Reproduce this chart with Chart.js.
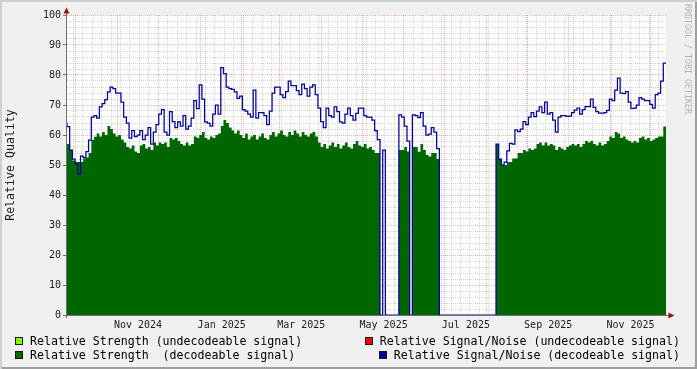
<!DOCTYPE html>
<html>
<head>
<meta charset="utf-8">
<script src="https://cdn.jsdelivr.net/npm/chart.js@4.4.1/dist/chart.umd.min.js"></script>
<style>
  html, body { margin: 0; padding: 0; background: #f0f0f0; }
  #wrap {
    position: relative; width: 697px; height: 369px; overflow: hidden;
    background: #f0f0f0;
    box-shadow: inset 2px 2px 0 #cfcfcf, inset -2px -2px 0 #9e9e9e;
    font-family: "DejaVu Sans Mono", monospace;
  }
  #chart { position: absolute; left: 0; top: 0; }
  .leg { position: absolute; font-size: 11.6px; line-height: 14px; color: #000; white-space: pre; }
  .leg i { display: inline-block; width: 8px; height: 8px; box-sizing: border-box;
           border: 1px solid #1a1a1a; margin-right: 7px; vertical-align: 0px; }
  #mark { position: absolute; left: 683px; top: 4px; writing-mode: vertical-rl;
          font-size: 8.3px; color: #b4b4b4; white-space: pre; line-height: 10px; }
</style>
</head>
<body>
<div id="wrap">
  <canvas id="chart" width="697" height="369"></canvas>
  <div id="legend"></div>
  <div id="mark">RRDTOOL / TOBI OETIKER</div>
</div>
<script>
  'use strict';

  var DAY = 86400000;
  // first sample sits on the left edge of the plot, one sample every 2 days
  var seriesStart = Date.UTC(2024, 8, 24, 8);
  var sampleDays = 2;
  var spanDays = 444;

  var tickLabels = ['Nov 2024', 'Jan 2025', 'Mar 2025', 'May 2025', 'Jul 2025', 'Sep 2025', 'Nov 2025'];
  var tickMonths = [[2024, 10], [2025, 0], [2025, 2], [2025, 4], [2025, 6], [2025, 8], [2025, 10]];

  var seriesNames = [
    'Relative Strength (undecodeable signal)',
    'Relative Signal/Noise (undecodeable signal)',
    'Relative Strength  (decodeable signal)',
    'Relative Signal/Noise (decodeable signal)'
  ];
  var seriesColors = ['#80ff00', '#ff0000', '#006600', '#000099'];

  // nothing undecodeable is visible in this period
  var strengthUndecoded = [];
  var snrUndecoded = [];

  var strengthDecoded = [
    57.2, 57, 55, 51.5, 51, 51, 51, 52.2, 52.5, 54,
    58.3, 59.4, 60.5, 59.5, 61, 60, 63, 62, 60.5, 59.5,
    60, 58.5, 57.5, 56, 55.5, 56.5, 54.5, 54, 56.5, 57,
    55.5, 56, 55, 57.5, 56.5, 57.5, 57, 57.5, 56, 59,
    58.5, 59, 58, 57, 56.5, 57.5, 56.5, 57, 59.5, 59,
    60, 61, 59, 58.5, 59.5, 59, 60, 60.5, 63, 65,
    64, 62.5, 61.5, 60.5, 61.5, 60, 59, 60.5, 58.5, 59.5,
    60, 58.5, 59.5, 60.5, 59, 58.5, 60, 61, 59.5, 60.5,
    61.5, 60, 59.5, 61, 60, 61.5, 60.5, 59.5, 61, 60,
    59.5, 60.5, 61, 59.5, 57.5, 56, 57, 55.5, 56.5, 57.5,
    56, 57, 55.5, 56.5, 57.5, 56, 55.5, 57, 58, 56.5,
    56, 57, 55.5, 56, 55, 54, 54, 0, 0, 0,
    0, 0, 0, 0, 55, 55, 56, 54.5, 0, 56,
    56, 54.4, 57, 55, 53.3, 52.8, 54, 54, 52, 0,
    0, 0, 0, 0, 0, 0, 0, 0, 0, 0,
    0, 0, 0, 0, 0, 0, 0, 0, 0, 0,
    57, 52, 50, 50, 51, 51, 52.2, 52.2, 54, 54,
    55, 54.5, 55.5, 55, 55.5, 57, 57.5, 56.5, 57.5, 56.5,
    57, 56.5, 55, 56, 55.5, 55, 56, 56.5, 57, 56.5,
    57, 56, 57, 58, 57.5, 58, 57, 56.5, 57.5, 56.5,
    57, 58, 59.5, 59, 61, 60.5, 59, 59.5, 58.5, 58,
    57.5, 58, 57.5, 59, 59.5, 58.5, 59, 58, 58.5, 59,
    59.5, 59.5, 62.8
  ];

  var snrDecoded = [
    64, 62.8, 55, 52, 50.5, 47, 53, 52.5, 54.5, 58.3,
    66, 66.5, 65.6, 69.4, 70.5, 71.8, 74.4, 76, 75.5, 74,
    74, 71, 66, 64, 59, 61.5, 59.5, 60, 61.5, 58.5,
    60, 62.5, 57, 61, 63.5, 67, 68.5, 61, 60, 67.8,
    64.5, 62.5, 64.4, 63, 66.5, 62, 63, 65.6, 71.5, 68.8,
    76.7, 72, 64.4, 64, 63, 67, 70, 67, 82.5, 80.5,
    76, 75.5, 75.2, 74.4, 72.2, 73, 68.5, 68, 67, 66,
    75, 65.6, 67.5, 67.5, 66.5, 63.5, 68, 74, 76, 76,
    73.5, 72.5, 74.5, 78, 76.5, 76.5, 74.8, 73.5, 77, 75.5,
    73, 76, 76.7, 73.5, 69, 64.5, 62.5, 69, 66.5, 66,
    69.4, 67.8, 64.4, 64, 67, 69, 66.5, 65, 67.2, 69,
    69, 66.5, 66, 66, 65, 61.5, 58.5, 0, 55, 0,
    0, 0, 0, 0, 66.7, 66, 63, 58, 0, 66.7,
    66.5, 65.8, 67.5, 63, 60, 60.3, 62.5, 61, 55.5, 0,
    0, 0, 0, 0, 0, 0, 0, 0, 0, 0,
    0, 0, 0, 0, 0, 0, 0, 0, 0, 0,
    57, 52, 50, 51, 54.7, 57.2, 57, 61.7, 61.1, 62,
    64.5, 63.5, 66, 67.5, 66.1, 68, 69.4, 67.5, 71, 67,
    67.5, 65, 61, 66, 66.5, 66.5, 66.2, 66.3, 67.5, 68.3,
    69, 67, 68.5, 69.5, 69.5, 72, 69.2, 67.8, 67.3, 67.3,
    67.5, 68.2, 72, 71.5, 75, 79, 74, 73.8, 74.5, 71,
    68.9, 69, 70, 72.5, 72, 71.5, 71.5, 70.2, 69, 73.5,
    74, 78, 84
  ];

  var MINOR = 'rgba(120,120,120,0.32)';
  var MAJOR = 'rgba(230,60,60,0.4)';
  var AXIS = '#707070';

  function toPoints(values) {
    return values.map(function (v, i) {
      return { x: seriesStart + i * sampleDays * DAY, y: v };
    });
  }

  // month starts = major grid, sundays = minor grid, mid-month = label
  function buildTimeTicks(scale) {
    var ticks = [];
    var min = scale.min, max = scale.max;
    for (var y = 2024; y <= 2025; y++) {
      for (var m = 0; m < 12; m++) {
        var t = Date.UTC(y, m, 1);
        if (t >= min && t <= max) ticks.push({ value: t, major: true });
      }
    }
    for (var s = Date.UTC(2024, 8, 29); s <= max; s += 7 * DAY) {
      if (new Date(s).getUTCDate() !== 1) ticks.push({ value: s, major: false });
    }
    tickMonths.forEach(function (ym, i) {
      var a = Date.UTC(ym[0], ym[1], 1), b = Date.UTC(ym[0], ym[1] + 1, 1);
      ticks.push({ value: a + Math.round((b - a) / DAY / 2) * DAY, text: tickLabels[i] });
    });
    scale.ticks = ticks;
  }

  var rrdFrame = {
    id: 'rrdFrame',
    beforeDraw: function (chart) {
      var a = chart.chartArea, ctx = chart.ctx;
      ctx.save();
      ctx.fillStyle = '#ffffff';
      ctx.fillRect(a.left, a.top, a.right - a.left, a.bottom - a.top);
      ctx.restore();
    },
    afterDraw: function (chart) {
      var a = chart.chartArea, ctx = chart.ctx;
      ctx.save();
      ctx.strokeStyle = AXIS;
      ctx.lineWidth = 1;
      ctx.beginPath();
      ctx.moveTo(a.left - 0.5, a.bottom + 3);
      ctx.lineTo(a.left - 0.5, a.top - 3);
      ctx.moveTo(a.left - 4, a.bottom + 0.5);
      ctx.lineTo(a.right + 3, a.bottom + 0.5);
      ctx.stroke();
      ctx.fillStyle = '#9a1414';
      ctx.beginPath();
      ctx.moveTo(a.left - 0.5, a.top - 7.5);
      ctx.lineTo(a.left - 3.5, a.top - 1.5);
      ctx.lineTo(a.left + 2.5, a.top - 1.5);
      ctx.closePath();
      ctx.fill();
      ctx.beginPath();
      ctx.moveTo(a.right + 8.5, a.bottom + 0.5);
      ctx.lineTo(a.right + 2.5, a.bottom - 2.5);
      ctx.lineTo(a.right + 2.5, a.bottom + 3.5);
      ctx.closePath();
      ctx.fill();
      ctx.restore();
    }
  };

  Chart.defaults.font.family = '"DejaVu Sans Mono", monospace';
  Chart.defaults.color = '#1a1a1a';

  var datasets = [
    { data: toPoints(snrDecoded), color: seriesColors[3], line: true },
    { data: toPoints(strengthDecoded), color: seriesColors[2], line: false },
    { data: toPoints(snrUndecoded), color: seriesColors[1], line: true },
    { data: toPoints(strengthUndecoded), color: seriesColors[0], line: false }
  ].map(function (d, i) {
    return {
      label: seriesNames[[3, 2, 1, 0][i]],
      data: d.data,
      stepped: 'after',
      pointRadius: 0,
      borderWidth: d.line ? 1.25 : 0,
      borderColor: d.color,
      backgroundColor: d.color,
      fill: d.line ? false : 'origin',
      clip: 2
    };
  });

  new Chart(document.getElementById('chart'), {
    type: 'line',
    data: { datasets: datasets },
    plugins: [rrdFrame],
    options: {
      responsive: false,
      animation: false,
      events: [],
      layout: { padding: { top: 15, right: 31, bottom: 34, left: 0 } },
      plugins: { legend: { display: false }, tooltip: { enabled: false } },
      scales: {
        x: {
          type: 'linear',
          min: seriesStart,
          max: seriesStart + spanDays * DAY,
          bounds: 'data',
          z: 1,
          afterBuildTicks: buildTimeTicks,
          afterFit: function (s) { s.height = 20; },
          border: { display: false, dash: [1, 1] },
          grid: {
            lineWidth: 1,
            color: function (c) {
              if (!c.tick || c.tick.text) return 'rgba(0,0,0,0)';
              return c.tick.major ? MAJOR : MINOR;
            },
            tickLength: 3,
            tickColor: 'rgba(0,0,0,0)'
          },
          ticks: {
            autoSkip: false, maxRotation: 0, minRotation: 0, padding: 1,
            font: { size: 10 }, color: '#1a1a1a',
            callback: function (v, i, ticks) { return ticks[i].text || ''; }
          }
        },
        y: {
          min: 0,
          max: 100,
          z: 1,
          afterFit: function (s) { s.width = 67; },
          border: { display: false, dash: [1, 1] },
          grid: {
            lineWidth: 1,
            color: function (c) { return c.tick && c.tick.value % 10 === 0 ? MAJOR : MINOR; },
            tickLength: 4,
            tickColor: function (c) { return c.tick && c.tick.value % 10 === 0 ? AXIS : 'rgba(0,0,0,0)'; }
          },
          ticks: {
            stepSize: 2, autoSkip: false, padding: 2,
            font: { size: 10 }, color: '#1a1a1a',
            callback: function (v) { return v % 10 === 0 ? String(v) : ''; }
          },
          title: {
            display: true, text: 'Relative Quality',
            font: { size: 11.6 }, color: '#1a1a1a',
            padding: { top: 4, bottom: 0 }
          }
        }
      }
    }
  });

  // rrdtool style legend: left column left-aligned, right column right-aligned
  var legendRows = [[0, 1], [2, 3]];
  var legendHtml = '';
  legendRows.forEach(function (row, r) {
    var top = 334 + r * 14;
    legendHtml += '<div class="leg" style="left:15px;top:' + top + 'px"><i style="background:' +
      seriesColors[row[0]] + '"></i>' + seriesNames[row[0]] + '</div>';
    legendHtml += '<div class="leg" style="right:17px;top:' + top + 'px"><i style="background:' +
      seriesColors[row[1]] + '"></i>' + seriesNames[row[1]] + '</div>';
  });
  document.getElementById('legend').innerHTML = legendHtml;
</script>
</body>
</html>
